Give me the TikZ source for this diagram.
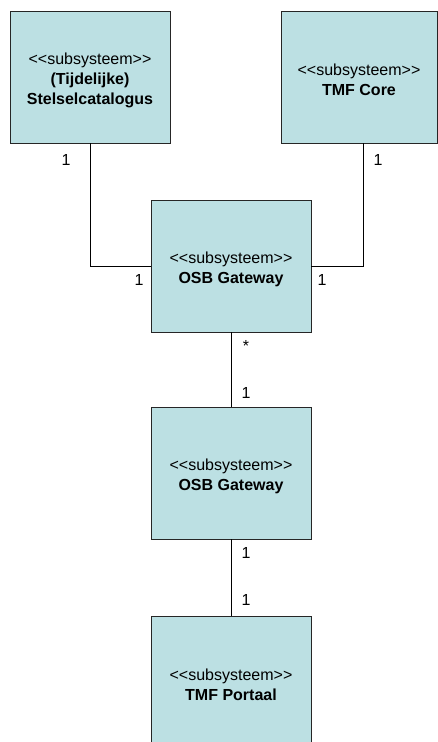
\documentclass[tikz,border=0pt]{standalone}
\usepackage{fontspec}
\setmainfont{Liberation Sans}
\newcommand{\stereo}{\rule{0pt}{17.5pt}{<}{<}subsysteem{>}{>}}
\begin{document}
\begin{tikzpicture}[x=1pt,y=-1pt,
  box/.style={draw=black!85,line width=0.9pt,fill=boxfill,minimum width=160pt,minimum height=132pt,inner sep=0pt,align=center,font=\fontsize{16}{20}\selectfont},
  conn/.style={draw=black,line width=0.9pt},
  mult/.style={font=\fontsize{16}{20}\selectfont,inner sep=0pt}]
\definecolor{boxfill}{HTML}{BCE0E3}
\useasboundingbox (0,0) rectangle (438,742);
\node[box] (cat) at (90,77) {\stereo\\\textbf{(Tijdelijke)}\\\textbf{Stelselcatalogus}};
\node[box,minimum width=156pt] (core) at (359,77) {\stereo\\\textbf{TMF Core}};
\node[box] (osb1) at (231,266) {\stereo\\\textbf{OSB Gateway}};
\node[box] (osb2) at (231,473) {\stereo\\\textbf{OSB Gateway}};
\node[box] (port) at (231,682) {\stereo\\\textbf{TMF Portaal}};
\draw[conn] (cat.south) |- (osb1.west);
\draw[conn] ([xshift=4pt]core.south) |- (osb1.east);
\draw[conn] (osb1.south) -- (osb2.north);
\draw[conn] (osb2.south) -- (port.north);
\node[mult] (m1) at (66,160) {1};
\node[mult] (m2) at (378,160) {1};
\node[mult] (m3) at (139,280) {1};
\node[mult] (m4) at (322,280) {1};
\node[mult] (m5) at (246,346) {*};
\node[mult] (m6) at (246,393) {1};
\node[mult] (m7) at (246,553) {1};
\node[mult] (m8) at (246,600) {1};
\end{tikzpicture}
\end{document}
